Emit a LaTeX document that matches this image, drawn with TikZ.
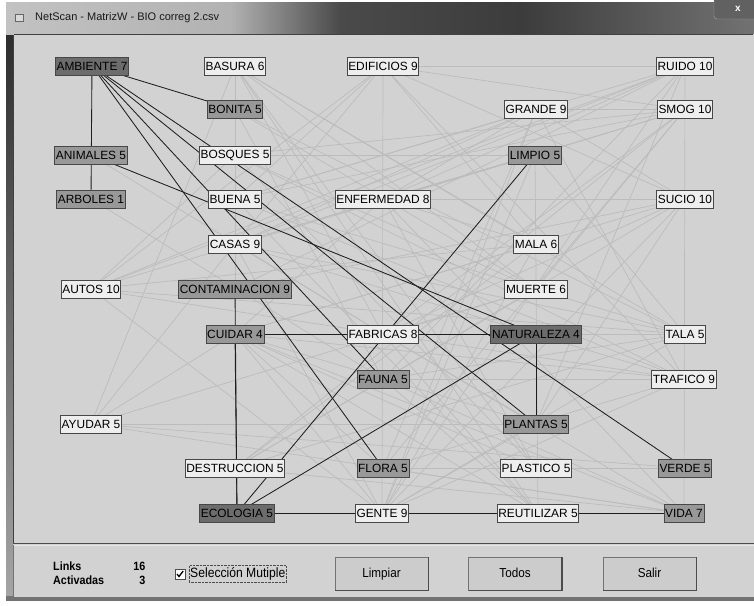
\documentclass[tikz,border=0pt]{standalone}
\usepackage{fontspec}
\setmainfont{Liberation Sans}
\newfontfamily\narrowfont[FakeStretch=0.9]{Liberation Sans}
\usetikzlibrary{calc}
\pgfdeclarelayer{back}
\pgfdeclarelayer{edges}
\pgfsetlayers{back,edges,main}
\definecolor{panelbg}{HTML}{D2D2D2}
\definecolor{wfill}{HTML}{EEEEEE}
\definecolor{nbfill}{HTML}{989898}
\definecolor{actfill}{HTML}{6C6C6C}
\definecolor{glink}{HTML}{BCBCBC}
\definecolor{dlink}{HTML}{1E1E1E}
\definecolor{tbA}{HTML}{C2C2C2}
\definecolor{tbB}{HTML}{B2B2B2}
\definecolor{tbC}{HTML}{4A4A4A}
\definecolor{tbD}{HTML}{3C3C3C}
\definecolor{tbE}{HTML}{727272}
\tikzset{
  nd/.style={draw=black!72, line width=0.9pt, inner xsep=1.2pt, inner ysep=0pt,
     minimum height=18pt, font=\fontsize{11.9}{12}\selectfont, text=black},
  wnode/.style={nd, fill=wfill},
  gnode/.style={nd, fill=nbfill},
  anode/.style={nd, fill=actfill},
  glk/.style={draw=glink, line width=0.7pt},
  dlk/.style={draw=dlink, line width=0.85pt},
  lbl/.style={font=\narrowfont\bfseries\fontsize{12}{13}\selectfont, inner sep=0pt},
  btn/.style={draw=black!55, fill=black!20, line width=0.8pt, minimum width=93pt,
     minimum height=33pt, text height=9.5pt, text depth=2.5pt,
     font=\narrowfont\fontsize{13}{14}\selectfont}
}
\begin{document}
\begin{tikzpicture}[x=1pt,y=-1pt]
\useasboundingbox (0,0) rectangle (754,605);
\begin{pgfonlayer}{back}
  \fill[white] (0,0) rectangle (754,605);
  % window frame
  \shade[top color=black!85, bottom color=black!35] (6,2) rectangle (14,600);
  \fill[black!55] (6,596) rectangle (754,601);
  \shade[left color=tbA, right color=tbB] (6,2) rectangle (230.5,34);
  \shade[left color=tbB, right color=tbC] (230,2) rectangle (340.5,34);
  \shade[left color=tbC, right color=tbD] (340,2) rectangle (520.5,34);
  \shade[left color=tbD, right color=tbE] (520,2) rectangle (754,34);
  % client
  \fill[panelbg] (13,34) rectangle (754,597);
  \draw[black!75, line width=1.2pt] (13.5,34.5) -- (753,34.5);
  \draw[black!75, line width=1.2pt] (13.5,34.5) -- (13.5,543);
  \draw[black!70, line width=1.6pt] (13,543.5) -- (754,543.5);
  \draw[white!90!black, line width=0.6pt] (14,545.5) -- (754,545.5);
  \draw[black!55, line width=1pt] (13.5,545) -- (13.5,597);
  % close button
  \fill[black!62, rounded corners=3pt] (714,-6) rectangle (760,19);
  \draw[black!35, rounded corners=3pt] (714,-6) rectangle (760,19);
\end{pgfonlayer}
\node[font=\fontsize{10}{11}\selectfont\bfseries, text=white] (closex) at (738,8.5) {x};
% title
\node[draw=black!60, fill=white!85!black, minimum width=8pt, minimum height=7pt, inner sep=0pt] (icon) at (19,17.5) {};
\node[anchor=west, font=\fontsize{11}{12}\selectfont, text=black!90, inner sep=0pt] (title) at (35,17.5) {NetScan - MatrizW - BIO correg 2.csv};

% nodes
\node[anode] (amb) at (92,66) {AMBIENTE 7};
\node[wnode] (bas) at (235,66) {BASURA 6};
\node[wnode] (edi) at (383,66) {EDIFICIOS 9};
\node[wnode] (rui) at (685,66) {RUIDO 10};
\node[gnode] (bon) at (235,109.5) {BONITA 5};
\node[wnode] (gra) at (536,109.5) {GRANDE 9};
\node[wnode] (smo) at (685,109.5) {SMOG 10};
\node[gnode] (ani) at (91,155) {ANIMALES 5};
\node[wnode] (bos) at (235,155) {BOSQUES 5};
\node[gnode] (lim) at (535,155) {LIMPIO 5};
\node[gnode] (arb) at (91,199) {ARBOLES 1};
\node[wnode] (bue) at (235,199) {BUENA 5};
\node[wnode] (enf) at (383,199) {ENFERMEDAD 8};
\node[wnode] (suc) at (685,199) {SUCIO 10};
\node[wnode] (cas) at (235,244) {CASAS 9};
\node[wnode] (mal) at (536,244) {MALA 6};
\node[wnode] (aut) at (91,289) {AUTOS 10};
\node[gnode] (con) at (235,289) {CONTAMINACION 9};
\node[wnode] (mue) at (536,289) {MUERTE 6};
\node[gnode] (cui) at (235,334) {CUIDAR 4};
\node[wnode] (fab) at (383,334) {FABRICAS 8};
\node[anode] (nat) at (536,334) {NATURALEZA 4};
\node[wnode] (tal) at (685,334) {TALA 5};
\node[gnode] (fau) at (383,379) {FAUNA 5};
\node[wnode] (tra) at (684,379) {TRAFICO 9};
\node[wnode] (ayu) at (91,424) {AYUDAR 5};
\node[gnode] (pla) at (536,424) {PLANTAS 5};
\node[wnode] (des) at (235,468) {DESTRUCCION 5};
\node[gnode] (flo) at (383,468) {FLORA 5};
\node[wnode] (pls) at (536,468) {PLASTICO 5};
\node[gnode] (ver) at (685,468) {VERDE 5};
\node[anode] (eco) at (237,513) {ECOLOGIA 5};
\node[wnode] (gen) at (382,513) {GENTE 9};
\node[wnode] (reu) at (538,513) {REUTILIZAR 5};
\node[gnode] (vid) at (684,513) {VIDA 7};

\begin{pgfonlayer}{edges}
\foreach \a/\b in {edi/rui, edi/smo, edi/suc, edi/gen, edi/aut, edi/bue, edi/mal, edi/cas, edi/tra,
  bas/con, bas/mal, bas/mue, bas/reu, bas/tal, bas/pls, bas/ayu, bas/fab,
  rui/vid, rui/cas, rui/aut, rui/enf, rui/con, rui/bue, rui/pla, rui/gen, rui/fau,
  smo/gra, smo/bue, smo/bos, smo/fab, smo/mue, smo/cas, smo/flo, smo/des,
  gra/suc, gra/tra, gra/bue, gra/cas, gra/aut, gra/flo, gra/enf, gra/gen,
  lim/reu, lim/enf, lim/cas, lim/aut, lim/tal, lim/gen, lim/bos, lim/smo,
  suc/enf, suc/cui, suc/con, suc/fab, suc/des, suc/pla, suc/gen,
  bon/tal, bon/fau, bon/mue, bos/tra, bos/aut, bos/pls, bos/mue,
  bue/tal, bue/reu, bue/tra, enf/vid, enf/mal, enf/pls, enf/cui,
  cas/tra, cas/fab, cas/tal, cas/gen, mal/des, mal/gen, mal/cui, mal/aut,
  mue/des, mue/ayu, mue/fab, tal/gen, tal/cui, tal/fau, tal/des,
  tra/cui, tra/fab, tra/fau, tra/gen, tra/flo, fau/vid, fau/reu,
  pla/fab, pla/cui, pla/gen, pla/ayu, des/vid, flo/pls, flo/vid, flo/cui,
  pls/ver, pls/cui, ayu/cui, ayu/cas, ayu/ver, ayu/vid,
  aut/fab, aut/gen, aut/tal, gen/cui, reu/fab, reu/cui, vid/fab, vid/cui,
  ani/fab, arb/fau}
  {\draw[glk] (\a.center) -- (\b.center);}
\foreach \a/\b in {amb/arb, amb/bon, amb/pla, amb/ver, amb/fau, amb/flo, ani/nat,
  cui/nat, nat/pla, eco/nat, eco/lim, eco/con, eco/cui, eco/vid}
  {\draw[dlk] (\a.center) -- (\b.center);}
\end{pgfonlayer}

% bottom panel
\node[anchor=west, lbl] (lnk) at (53,566) {Links};
\node[anchor=east, lbl] (lnkn) at (145.5,566) {16};
\node[anchor=west, lbl] (act) at (53,580.5) {Activadas};
\node[anchor=east, lbl] (actn) at (145.5,580.5) {3};
\node[draw=black!70, fill=white, minimum size=10pt, inner sep=0pt, line width=0.7pt] (chk) at (180,574) {};
\draw[line width=1.3pt] ($(chk.center)+(-3,0)$) -- ($(chk.center)+(-1,2.5)$) -- ($(chk.center)+(3.2,-3)$);
\node[anchor=west, font=\narrowfont\fontsize{13.5}{14}\selectfont, draw=black!70, densely dotted, inner xsep=1pt, inner ysep=2pt] (sel) at (189,574) {Selección Mutiple};
\node[btn] (limpiar) at (381.5,573.5) {Limpiar};
\node[btn] (todos) at (515,573.5) {Todos};
\node[btn] (salir) at (649.5,573.5) {Salir};
\foreach \b in {limpiar,todos,salir}{
  \draw[black!70, line width=1.2pt] ($(\b.south west)+(0.6,0)$) -- ($(\b.south east)+(0,0)$) -- ($(\b.north east)+(0,0.6)$);
}
\end{tikzpicture}
\end{document}
